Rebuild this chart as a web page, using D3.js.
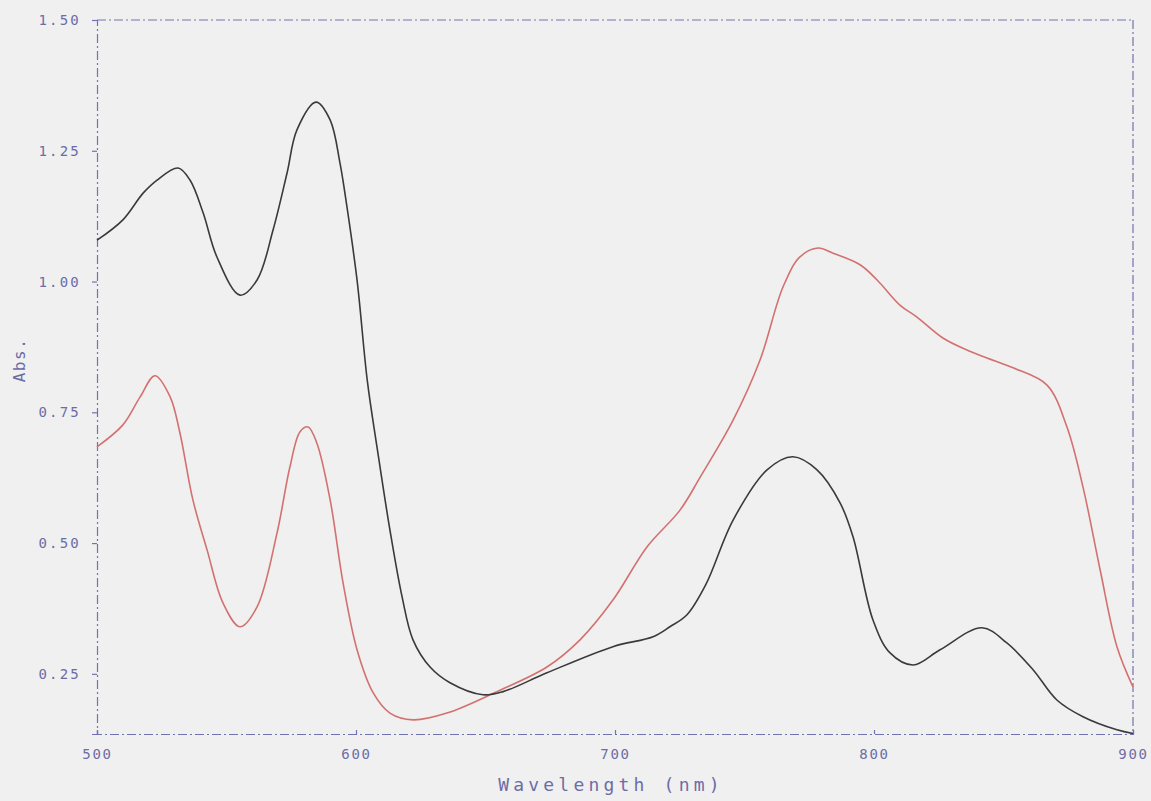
<!DOCTYPE html>
<html>
<head>
<meta charset="utf-8">
<script src="https://cdn.jsdelivr.net/npm/d3@7/dist/d3.min.js"></script>
<style>
  html, body { margin: 0; padding: 0; background: #f0f0f0; }
  svg { display: block; }
  text { font-family: "DejaVu Sans Mono", "Liberation Mono", monospace; fill: #6c6ca6; }
</style>
</head>
<body>
<svg id="chart" width="1151" height="801"></svg>
<script>
// ---- data (wavelength nm, absorbance) ----
const blackWl = [500, 510, 517.8, 523.2, 531.3, 535.9, 541, 546.3, 555.2, 561.8, 568, 573.4, 577.2, 584.6, 590, 593.8, 596.5, 600.4, 604.4, 608.1, 613.1, 617.8, 622, 628.6, 636.3, 649, 656.8, 673.7, 699.2, 714.7, 721.2, 727.8, 735, 745.6, 758.7, 768.7, 778, 786.9, 791.9, 799.6, 806.2, 815.1, 825.5, 841.7, 851.3, 861.4, 870.6, 880.7, 893.8, 900];
const blackAbs = [1.079, 1.118, 1.169, 1.194, 1.217, 1.194, 1.131, 1.047, 0.974, 1.003, 1.099, 1.208, 1.290, 1.343, 1.309, 1.227, 1.143, 1.003, 0.809, 0.684, 0.525, 0.397, 0.315, 0.263, 0.233, 0.210, 0.216, 0.252, 0.302, 0.321, 0.340, 0.363, 0.420, 0.544, 0.640, 0.665, 0.640, 0.577, 0.512, 0.353, 0.290, 0.267, 0.296, 0.338, 0.309, 0.258, 0.200, 0.168, 0.143, 0.136];

const redWl = [500, 510, 516.6, 522.4, 528.2, 532, 537, 542.5, 548.6, 555.2, 561.8, 569.5, 574.5, 578.4, 581.5, 584.9, 590, 595, 600.4, 606.6, 613.1, 622, 635.1, 654.4, 673.7, 686.5, 699.2, 712.4, 725.1, 733, 745.6, 756, 764.9, 771.4, 778.4, 784.2, 794.6, 801.2, 810, 816.6, 826.6, 835.9, 843.6, 853.7, 866.8, 874.5, 880.7, 887.3, 893.8, 900];
const redAbs = [0.684, 0.726, 0.779, 0.820, 0.780, 0.711, 0.583, 0.487, 0.386, 0.340, 0.378, 0.519, 0.646, 0.713, 0.722, 0.691, 0.583, 0.424, 0.296, 0.214, 0.175, 0.162, 0.175, 0.216, 0.263, 0.315, 0.391, 0.493, 0.563, 0.627, 0.735, 0.850, 0.990, 1.047, 1.064, 1.054, 1.032, 1.003, 0.955, 0.932, 0.892, 0.869, 0.854, 0.835, 0.802, 0.722, 0.607, 0.449, 0.302, 0.225];

const xTicks = [500, 600, 700, 800, 900];
const yTicks = [0.25, 0.50, 0.75, 1.00, 1.25, 1.50];
const xLabel = "Wavelength (nm)";
const yLabel = "Abs.";

// ---- layout ----
const svg = d3.select("#chart");
const pLeft = 97, pRight = 1133, pTop = 20, pBottom = 734;
const x = d3.scaleLinear().domain([500, 900]).range([pLeft, pRight]);
const y = d3.scaleLinear().domain([0.135, 1.5]).range([pBottom, pTop]);

const axisColor = "#7272b0";
const dash = "9,3,2,3";

// frame (dashed plotter-style)
const frame = svg.append("g");
frame.append("line").attr("x1", pLeft).attr("x2", pRight).attr("y1", pTop).attr("y2", pTop);
frame.append("line").attr("x1", pRight).attr("x2", pRight).attr("y1", pTop).attr("y2", pBottom);
frame.selectAll("line").attr("stroke", axisColor).attr("stroke-width", 1.2).attr("stroke-dasharray", dash);

// y axis
const yAxis = svg.append("g").attr("transform", `translate(${pLeft},0)`)
  .call(d3.axisLeft(y).tickValues(yTicks).tickFormat(d3.format(".2f")).tickSize(5).tickPadding(11));
yAxis.select(".domain").attr("stroke", axisColor).attr("stroke-width", 1.2).attr("stroke-dasharray", dash);
yAxis.selectAll(".tick line").attr("stroke", axisColor).attr("stroke-width", 1.2);
yAxis.selectAll(".tick text")
  .attr("font-size", 14).attr("letter-spacing", 2.2).attr("fill", "#6c6ca6")
  .style("font-family", '"DejaVu Sans Mono", monospace');

// x axis
const xAxis = svg.append("g").attr("transform", `translate(0,${pBottom})`)
  .call(d3.axisBottom(x).tickValues(xTicks).tickFormat(d3.format("d")).tickSize(-4).tickPadding(15));
xAxis.select(".domain").attr("stroke", axisColor).attr("stroke-width", 1.2).attr("stroke-dasharray", dash);
xAxis.selectAll(".tick line").attr("stroke", axisColor).attr("stroke-width", 1.2);
xAxis.selectAll(".tick text")
  .attr("font-size", 14).attr("letter-spacing", 1.8).attr("fill", "#6c6ca6")
  .style("font-family", '"DejaVu Sans Mono", monospace');

// axis titles
svg.append("text")
  .attr("x", 611).attr("y", 791)
  .attr("text-anchor", "middle")
  .attr("font-size", 18).attr("letter-spacing", 4.2)
  .attr("fill", "#7078aa")
  .text(xLabel);

svg.append("text")
  .attr("transform", "translate(25,360) rotate(-90)")
  .attr("text-anchor", "middle")
  .attr("font-size", 16).attr("letter-spacing", 1.5)
  .attr("fill", "#7078aa")
  .text(yLabel);

// curves
const line = d3.line().x(d => x(d[0])).y(d => y(d[1])).curve(d3.curveCatmullRom.alpha(0.5));
const blackData = d3.zip(blackWl, blackAbs);
const redData = d3.zip(redWl, redAbs);

svg.append("path").datum(redData)
  .attr("d", line).attr("fill", "none")
  .attr("stroke", "#d27170").attr("stroke-width", 1.6);

svg.append("path").datum(blackData)
  .attr("d", line).attr("fill", "none")
  .attr("stroke", "#3a3a3a").attr("stroke-width", 1.6);
</script>
</body>
</html>
